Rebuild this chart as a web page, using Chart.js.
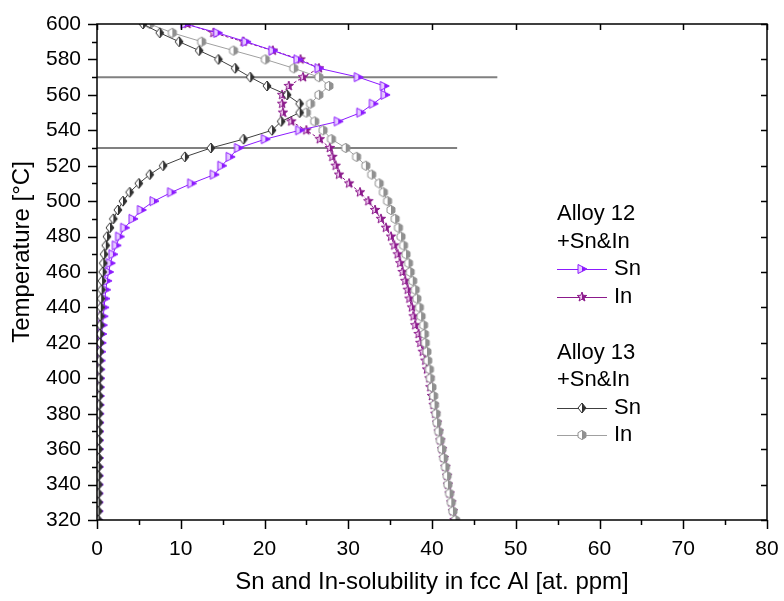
<!DOCTYPE html>
<html>
<head>
<meta charset="utf-8">
<script src="https://cdn.jsdelivr.net/npm/chart.js@4.4.1/dist/chart.umd.min.js"></script>
<style>
  html, body { margin: 0; padding: 0; background: #fff; }
  #wrap { width: 784px; height: 601px; }
</style>
</head>
<body>
<div id="wrap"><canvas id="c" width="784" height="601"></canvas></div>
<script>
// temperature steps, 600 down to 320 °C
const temps = [600, 595, 590, 585, 580, 575, 570, 565, 560, 555, 550, 545, 540, 535, 530,
  525, 520, 515, 510, 505, 500, 495, 490, 485, 480, 475, 470, 465, 460, 455, 450, 445,
  440, 435, 430, 425, 420, 415, 410, 405, 400, 395, 390, 385, 380, 375, 370, 365, 360,
  355, 350, 345, 340, 335, 330, 325, 320];

// Alloy 12 +Sn&In
const sn12 = [10.5, 14.4, 17.8, 21.0, 24.0, 26.5, 31.2, 34.3, 34.4, 33.0, 31.5, 28.8, 24.2, 20.1, 16.9,
  15.9, 14.9, 14.0, 11.3, 8.9, 6.8, 5.3, 4.3, 3.3, 2.7, 2.3, 1.9, 1.6, 1.4, 1.2, 1.05, 0.95,
  0.85, 0.75, 0.66, 0.58, 0.52, 0.47, 0.42, 0.38, 0.35, 0.32, 0.3, 0.28, 0.26, 0.24, 0.23, 0.22, 0.21,
  0.2, 0.19, 0.18, 0.17, 0.16, 0.15, 0.15, 0.14];
const in12 = [10.8, 13.9, 17.5, 21.0, 24.3, 26.5, 24.6, 22.9, 22.1, 22.1, 22.2, 23.2, 25.0, 26.6, 27.8,
  28.1, 28.5, 28.9, 30.1, 31.4, 32.4, 33.2, 33.9, 34.5, 35.1, 35.5, 35.9, 36.2, 36.5, 36.8, 37.1, 37.3,
  37.6, 37.8, 38.0, 38.4, 38.6, 38.9, 39.2, 39.4, 39.7, 39.8, 40.0, 40.2, 40.4, 40.6, 40.8, 41.0, 41.2,
  41.4, 41.6, 41.8, 41.9, 42.1, 42.3, 42.5, 42.7];

// Alloy 13 +Sn&In
const sn13 = [5.5, 7.5, 9.8, 12.2, 14.5, 16.5, 18.3, 20.3, 22.7, 24.2, 24.2, 22.0, 20.9, 17.5, 13.6,
  10.5, 7.9, 6.3, 5.0, 3.9, 3.1, 2.5, 1.95, 1.55, 1.2, 1.05, 0.85, 0.75, 0.68, 0.6, 0.55, 0.5,
  0.45, 0.42, 0.4, 0.38, 0.36, 0.34, 0.32, 0.31, 0.3, 0.29, 0.28, 0.27, 0.26, 0.25, 0.24, 0.23, 0.22,
  0.21, 0.2, 0.2, 0.19, 0.18, 0.18, 0.17, 0.17];
const in13 = [6.3, 9.0, 12.5, 16.3, 20.1, 23.5, 26.5, 27.7, 26.5, 25.5, 25.0, 26.0, 27.0, 28.0, 29.7,
  31.0, 32.1, 32.8, 33.7, 34.2, 34.7, 35.1, 35.6, 36.0, 36.3, 36.6, 36.9, 37.2, 37.4, 37.7, 38.0, 38.2,
  38.5, 38.7, 39.0, 39.1, 39.2, 39.4, 39.5, 39.7, 39.8, 40.0, 40.2, 40.3, 40.5, 40.6, 40.8, 41.0, 41.2,
  41.4, 41.6, 41.8, 41.9, 42.1, 42.3, 42.5, 42.8];

// horizontal marker lines
const refTemps = [570, 530];
const refEnds = [47.8, 43.0];

const FONT = "'Liberation Sans', Arial, sans-serif";
const VIOLET = '#8c1aff', PURPLE = '#8b1a8b', DARK = '#404040', LIGHT = '#a0a0a0';

// half filled marker images
function marker(draw, edge, fill, pale) {
  const c = document.createElement('canvas');
  c.width = 12; c.height = 12;
  const g = c.getContext('2d');
  g.translate(6, 6);
  const p = new Path2D();
  draw(p);
  g.fillStyle = pale; g.fill(p);
  g.save(); g.beginPath(); g.rect(0, -6, 6, 12); g.clip();
  g.fillStyle = fill; g.fill(p); g.restore();
  g.strokeStyle = edge; g.lineWidth = 1; g.stroke(p);
  return c;
}
const tri = p => { p.moveTo(-4, -4.5); p.lineTo(5, 0); p.lineTo(-4, 4.5); p.closePath(); };
const dia = p => { p.moveTo(0, -5); p.lineTo(4, 0); p.lineTo(0, 5); p.lineTo(-4, 0); p.closePath(); };
const hex = p => { for (let i = 0; i < 6; i++) { const a = Math.PI / 6 + i * Math.PI / 3; p[i ? 'lineTo' : 'moveTo'](4.6 * Math.cos(a), 4.6 * Math.sin(a)); } p.closePath(); };
const star = p => { for (let i = 0; i < 10; i++) { const r = i % 2 ? 2.1 : 5; const a = -Math.PI / 2 + i * Math.PI / 5; p[i ? 'lineTo' : 'moveTo'](r * Math.cos(a), r * Math.sin(a)); } p.closePath(); };

const mkSn12 = marker(tri, VIOLET, VIOLET, '#e6ccff');
const mkIn12 = marker(star, PURPLE, PURPLE, '#f0c8f0');
const mkSn13 = marker(dia, '#303030', '#303030', '#ffffff');
const mkIn13 = marker(hex, '#909090', '#909090', '#ffffff');

const pts = vals => vals.map((v, i) => ({ x: v, y: temps[i] }));
const series = (vals, color, img, dash) => ({
  data: pts(vals), borderColor: color, borderWidth: 1, borderDash: dash || [],
  pointStyle: img, pointRadius: 5, showLine: true, tension: 0
});

const datasets = [
  series(sn13, DARK, mkSn13),
  series(in13, LIGHT, mkIn13),
  series(sn12, VIOLET, mkSn12),
  series(in12, PURPLE, mkIn12, [3, 2]),
];
refTemps.forEach((t, i) => datasets.push({
  data: [{ x: 0, y: t }, { x: refEnds[i], y: t }], borderColor: '#808080', borderWidth: 2,
  pointRadius: 0, showLine: true
}));

const legendRows = [
  { text: 'Alloy 12', y: 214 },
  { text: '+Sn&In', y: 242 },
  { text: 'Sn', y: 269, color: VIOLET, img: mkSn12 },
  { text: 'In', y: 297, color: PURPLE, img: mkIn12 },
  { text: 'Alloy 13', y: 353 },
  { text: '+Sn&In', y: 380 },
  { text: 'Sn', y: 408, color: DARK, img: mkSn13 },
  { text: 'In', y: 435, color: LIGHT, img: mkIn13 },
];

const decor = {
  id: 'decor',
  afterDraw(chart) {
    const { ctx, chartArea: a, scales: { x, y } } = chart;
    ctx.save();
    ctx.strokeStyle = '#000';
    ctx.lineWidth = 1.5;
    ctx.strokeRect(a.left, a.top, a.right - a.left, a.bottom - a.top);
    ctx.beginPath();
    x.ticks.forEach((t, i) => {
      const px = Math.round(x.getPixelForValue(t.value)) + 0.5;
      ctx.moveTo(px, a.bottom); ctx.lineTo(px, a.bottom + 9);
      ctx.moveTo(px, a.top); ctx.lineTo(px, a.top + 6);
      if (i > 0) {
        const m = Math.round(x.getPixelForValue((t.value + x.ticks[i - 1].value) / 2)) + 0.5;
        ctx.moveTo(m, a.bottom); ctx.lineTo(m, a.bottom + 5);
      }
    });
    y.ticks.forEach((t, i) => {
      const py = Math.round(y.getPixelForValue(t.value)) + 0.5;
      ctx.moveTo(a.left, py); ctx.lineTo(a.left - 9, py);
      ctx.moveTo(a.right, py); ctx.lineTo(a.right - 6, py);
      if (i > 0) {
        const m = Math.round(y.getPixelForValue((t.value + y.ticks[i - 1].value) / 2)) + 0.5;
        ctx.moveTo(a.left, m); ctx.lineTo(a.left - 5, m);
      }
    });
    ctx.stroke();

    // y axis title
    ctx.fillStyle = '#000';
    ctx.font = '24px ' + FONT;
    ctx.textAlign = 'center';
    ctx.textBaseline = 'middle';
    ctx.save();
    ctx.translate(22, 252);
    ctx.rotate(-Math.PI / 2);
    ctx.fillText('Temperature [°C]', 0, 0);
    ctx.restore();

    // legend
    ctx.font = '22px ' + FONT;
    ctx.textAlign = 'left';
    legendRows.forEach(r => {
      if (r.img) {
        ctx.strokeStyle = r.color; ctx.lineWidth = 1;
        ctx.beginPath(); ctx.moveTo(557, r.y + 0.5); ctx.lineTo(607, r.y + 0.5); ctx.stroke();
        ctx.drawImage(r.img, 582 - 6, r.y - 6);
        ctx.fillText(r.text, 614, r.y);
      } else {
        ctx.fillText(r.text, 557, r.y);
      }
    });
    ctx.restore();
  }
};

new Chart(document.getElementById('c'), {
  type: 'scatter',
  data: { datasets },
  options: {
    responsive: false,
    animation: false,
    layout: { padding: { top: 24, right: 17, left: 0, bottom: 0 } },
    plugins: { legend: { display: false }, tooltip: { enabled: false } },
    scales: {
      x: {
        type: 'linear', min: 0, max: 80,
        grid: { display: false, drawTicks: false },
        border: { display: false },
        ticks: { stepSize: 10, padding: 17, color: '#000', font: { family: FONT, size: 21 } },
        title: { display: true, text: 'Sn and In-solubility in fcc Al [at. ppm]', color: '#000',
          font: { family: FONT, size: 24 }, padding: { top: 0, bottom: 4 } },
        afterFit: s => { s.height = 81; s.paddingLeft = 0; s.paddingRight = 0; }
      },
      y: {
        type: 'linear', min: 320, max: 600,
        grid: { display: false, drawTicks: false },
        border: { display: false },
        ticks: { stepSize: 20, padding: 16, color: '#000', font: { family: FONT, size: 21 } },
        afterFit: s => { s.width = 97; s.paddingTop = 0; s.paddingBottom = 0; }
      }
    }
  },
  plugins: [decor]
});
</script>
</body>
</html>
